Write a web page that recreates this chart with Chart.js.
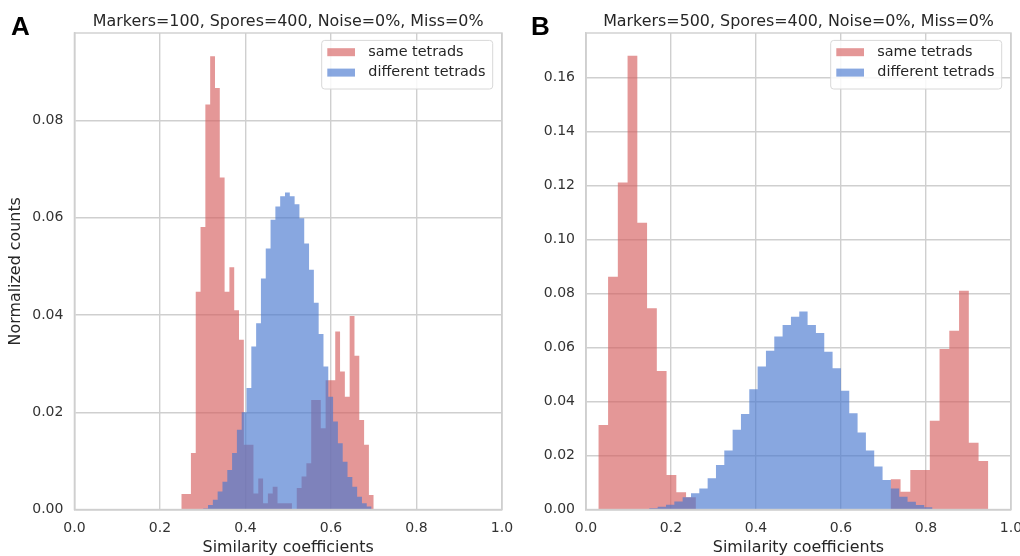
<!DOCTYPE html>
<html>
<head>
<meta charset="utf-8">
<script src="https://cdn.jsdelivr.net/npm/chart.js@4.4.1/dist/chart.umd.min.js"></script>
<style>
  html, body { margin: 0; padding: 0; background: #fff; }
  body { width: 1020px; height: 556px; position: relative; overflow: hidden; }
  .panel { position: absolute; top: 0; }
  #boxA { left: 0; }
  #boxB { left: 500px; }
</style>
</head>
<body>
<div class="panel" id="boxA"><canvas id="chartA" width="530" height="556"></canvas></div>
<div class="panel" id="boxB"><canvas id="chartB" width="520" height="556"></canvas></div>
<script>
// histogram heights (normalized counts), one per bin
const seriesNames = ['same tetrads', 'different tetrads']
const xTicks = [0, 0.2, 0.4, 0.6, 0.8, 1.0]

// panel A: Markers=100
const sameAStart = 0.25, sameABin = 0.01125
const sameA = [0.0032, 0.0032, 0.0116, 0.0448, 0.0581, 0.0833, 0.0932, 0.0867, 0.0683, 0.0448,
               0.0498, 0.0410, 0.0349, 0.0133, 0.0133, 0.0033, 0.0064, 0.0013, 0.0033, 0.0047,
               0.0013, 0.0013, 0.0013, 0.0000, 0.0044, 0.0068, 0.0095, 0.0225, 0.0225, 0.0167,
               0.0266, 0.0266, 0.0366, 0.0284, 0.0232, 0.0398, 0.0316, 0.0184, 0.0133, 0.0030]
const diffAStart = 0.245, diffABin = 0.01125
const diffA = [0, 0, 0.0001, 0.0001, 0.0001, 0.0002, 0.0009, 0.0020, 0.0037, 0.0057,
               0.0081, 0.0116, 0.0164, 0.0200, 0.0250, 0.0335, 0.0383, 0.0475, 0.0537, 0.0596,
               0.0623, 0.0644, 0.0652, 0.0644, 0.0628, 0.0599, 0.0547, 0.0493, 0.0425, 0.0361,
               0.0294, 0.0232, 0.0181, 0.0136, 0.0098, 0.0067, 0.0047, 0.0026, 0.0013, 0.0006]

// panel B: Markers=500
const sameBStart = 0.029, sameBBin = 0.02294
const sameB = [0.0313, 0.0862, 0.1211, 0.1680, 0.1062, 0.0745, 0.0513, 0.0128, 0.0064, 0.0045,
               0, 0, 0, 0, 0, 0, 0, 0, 0, 0,
               0, 0, 0, 0, 0, 0, 0, 0, 0, 0,
               0.0112, 0.0066, 0.0146, 0.0146, 0.0329, 0.0594, 0.0662, 0.0810, 0.0247, 0.0180]
const diffBStart = 0.0314, diffBBin = 0.0196
const diffB = [0, 0, 0, 0, 0.0001, 0.0002, 0.0005, 0.0010, 0.0018, 0.0030,
               0.0045, 0.0060, 0.0078, 0.0116, 0.0165, 0.0218, 0.0295, 0.0354, 0.0445, 0.0529,
               0.0588, 0.0640, 0.0683, 0.0714, 0.0733, 0.0683, 0.0653, 0.0584, 0.0523, 0.0440,
               0.0356, 0.0285, 0.0218, 0.0159, 0.0109, 0.0078, 0.0047, 0.0029, 0.0017, 0.0008]

const FONT = 'DejaVu Sans'
const red = 'rgba(214,95,95,0.65)'
const blue = 'rgba(72,120,207,0.65)'
const gridColor = '#cfcfcf'
const textColor = '#262626'

// outline of a histogram: two points at every bin edge so the fill is one polygon
function histPoints(start, width, heights) {
  let pts = [{x: start, y: 0}]
  heights.forEach((h, i) => {
    pts.push({x: start + i * width, y: h})
    pts.push({x: start + (i + 1) * width, y: h})
  })
  pts.push({x: start + heights.length * width, y: 0})
  return pts
}

function decor(letter, letterX, title) {
  return {
    id: 'decor',
    afterDatasetsDraw(chart) {
      const {ctx, chartArea: a} = chart
      ctx.save()
      ctx.strokeStyle = gridColor
      ctx.lineWidth = 1.4
      ctx.strokeRect(a.left, a.top, a.right - a.left, a.bottom - a.top)

      // legend box
      const bw = 171, bh = 48.6
      const bx = a.right - 9.3 - bw, by = a.top + 7.4
      ctx.beginPath()
      ctx.roundRect(bx, by, bw, bh, 3)
      ctx.fillStyle = 'rgba(255,255,255,0.85)'
      ctx.fill()
      ctx.strokeStyle = '#d8d8d8'
      ctx.lineWidth = 1
      ctx.stroke()
      const cols = [red, blue]
      ctx.font = '14.4px "' + FONT + '"'
      ctx.textBaseline = 'middle'
      seriesNames.forEach((name, i) => {
        const cy = by + 11.8 + i * 20.4
        ctx.fillStyle = cols[i]
        ctx.fillRect(bx + 5.6, cy - 4, 27.7, 8)
        ctx.fillStyle = textColor
        ctx.fillText(name, bx + 46.6, cy)
      })
      ctx.restore()
    },
    afterDraw(chart) {
      const {ctx, chartArea: a} = chart
      ctx.save()
      ctx.fillStyle = textColor
      ctx.textBaseline = 'alphabetic'
      ctx.textAlign = 'center'
      ctx.font = '15.9px "' + FONT + '"'
      ctx.fillText(title, (a.left + a.right) / 2, 26)
      ctx.textAlign = 'left'
      ctx.fillStyle = '#000'
      ctx.font = 'bold 26px "Liberation Sans"'
      ctx.fillText(letter, letterX, 35)
      ctx.restore()
    }
  }
}

function makeChart(id, opts) {
  const ctx = document.getElementById(id)
  new Chart(ctx, {
    type: 'line',
    data: {
      datasets: [
        {
          label: seriesNames[0],
          data: histPoints(opts.sameStart, opts.sameBin, opts.same),
          fill: 'origin', tension: 0,
          backgroundColor: red, borderColor: 'rgba(0,0,0,0)', borderWidth: 0,
          pointRadius: 0, pointHoverRadius: 0, order: 2
        },
        {
          label: seriesNames[1],
          data: histPoints(opts.diffStart, opts.diffBin, opts.diff),
          fill: 'origin', tension: 0,
          backgroundColor: blue, borderColor: 'rgba(0,0,0,0)', borderWidth: 0,
          pointRadius: 0, pointHoverRadius: 0, order: 1
        }
      ]
    },
    options: {
      responsive: false,
      animation: false,
      events: [],
      layout: {padding: {left: 0, top: 33, right: opts.padRight, bottom: 0}},
      plugins: {legend: {display: false}, tooltip: {enabled: false}, title: {display: false}},
      scales: {
        x: {
          type: 'linear', min: 0, max: 1,
          afterBuildTicks: (s) => { s.ticks = xTicks.map(v => ({value: v})) },
          afterFit: (s) => { s.height = 46.5; s.paddingLeft = 0; s.paddingRight = 0 },
          grid: {color: gridColor, lineWidth: 1.4, drawTicks: false},
          border: {color: gridColor, width: 1.4},
          ticks: {padding: 10, color: '#333', font: {family: FONT, size: 14}, callback: v => v.toFixed(1)},
          title: {display: true, text: 'Similarity coefficients', color: textColor,
                  font: {family: FONT, size: 15.9}, padding: {top: 0, bottom: -1}}
        },
        y: {
          min: 0, max: opts.yMax,
          afterFit: (s) => { s.width = opts.yWidth; s.paddingTop = 0; s.paddingBottom = 0 },
          grid: {color: gridColor, lineWidth: 1.4, drawTicks: false},
          border: {color: gridColor, width: 1.4},
          ticks: {stepSize: 0.02, includeBounds: false, padding: 11, color: '#333',
                  font: {family: FONT, size: 14}, callback: v => v.toFixed(2)},
          title: {display: opts.yTitle, text: 'Normalized counts', color: textColor,
                  font: {family: FONT, size: 15.9}, padding: {top: 6.5, bottom: 0}}
        }
      }
    },
    plugins: [decor(opts.letter, opts.letterX, opts.title)]
  })
}

makeChart('chartA', {
  same: sameA, sameStart: sameAStart, sameBin: sameABin,
  diff: diffA, diffStart: diffAStart, diffBin: diffABin,
  yMax: 0.098, yWidth: 74.4, padRight: 28, yTitle: true,
  letter: 'A', letterX: 11, title: 'Markers=100, Spores=400, Noise=0%, Miss=0%'
})
makeChart('chartB', {
  same: sameB, sameStart: sameBStart, sameBin: sameBBin,
  diff: diffB, diffStart: diffBStart, diffBin: diffBBin,
  yMax: 0.1764, yWidth: 86, padRight: 9, yTitle: false,
  letter: 'B', letterX: 31, title: 'Markers=500, Spores=400, Noise=0%, Miss=0%'
})
</script>
</body>
</html>
